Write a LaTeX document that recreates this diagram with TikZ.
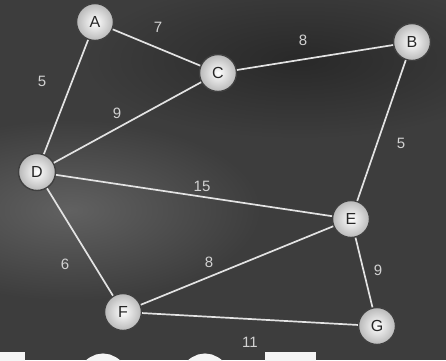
\documentclass[tikz,border=0pt]{standalone}
\usepackage{fontspec}
\setmainfont{Liberation Sans}
\begin{document}
\begin{tikzpicture}[x=1pt,y=-1pt,
  vtx/.style={circle,minimum size=37pt,inner sep=0pt,draw=black!75,line width=1.4pt,
    inner color=white,outer color=gray!55,font=\fontsize{16}{16}\selectfont,text=black!85},
  edge/.style={draw=gray!22,line width=1.7pt},
  wlab/.style={font=\fontsize{15}{15}\selectfont,text=gray!35},
  letter/.style={fill=gray!8,draw=none}]
\useasboundingbox (0,0) rectangle (446,360);
\fill[black!76] (0,0) rectangle (446,360);
\begin{scope}
\clip (0,0) rectangle (446,360);
\shade[inner color=black!62,outer color=black!76] (70,210) ellipse (190 and 90);
\shade[inner color=black!84,outer color=black!76] (300,60) ellipse (220 and 80);
\fill[letter] (-5,352) rectangle (25,370);
\draw[gray!8,line width=13pt] (103,400) ellipse (26 and 40);
\draw[gray!8,line width=13pt] (205,400) ellipse (26 and 40);
\fill[letter] (265,352) rectangle (316,370);
\end{scope}
\node[vtx] (A) at (95,22) {A};
\node[vtx] (B) at (412,42) {B};
\node[vtx] (C) at (218,73) {C};
\node[vtx] (D) at (37,172) {D};
\node[vtx] (E) at (351,219) {E};
\node[vtx] (F) at (123,312) {F};
\node[vtx] (G) at (377,326) {G};
\draw[edge] (A) -- (C);
\draw[edge] (C) -- (B);
\draw[edge] (A) -- (D);
\draw[edge] (D) -- (C);
\draw[edge] (B) -- (E);
\draw[edge] (D) -- (E);
\draw[edge] (D) -- (F);
\draw[edge] (F) -- (E);
\draw[edge] (E) -- (G);
\draw[edge] (F) -- (G);
\node[wlab] (w1) at (158,27) {7};
\node[wlab] (w2) at (303,40) {8};
\node[wlab] (w3) at (42,81) {5};
\node[wlab] (w4) at (117,113) {9};
\node[wlab] (w5) at (401,143) {5};
\node[wlab] (w6) at (202,186) {15};
\node[wlab] (w7) at (65,264) {6};
\node[wlab] (w8) at (209,262) {8};
\node[wlab] (w9) at (378,270) {9};
\node[wlab] (w10) at (250,342) {11};
\end{tikzpicture}
\end{document}
